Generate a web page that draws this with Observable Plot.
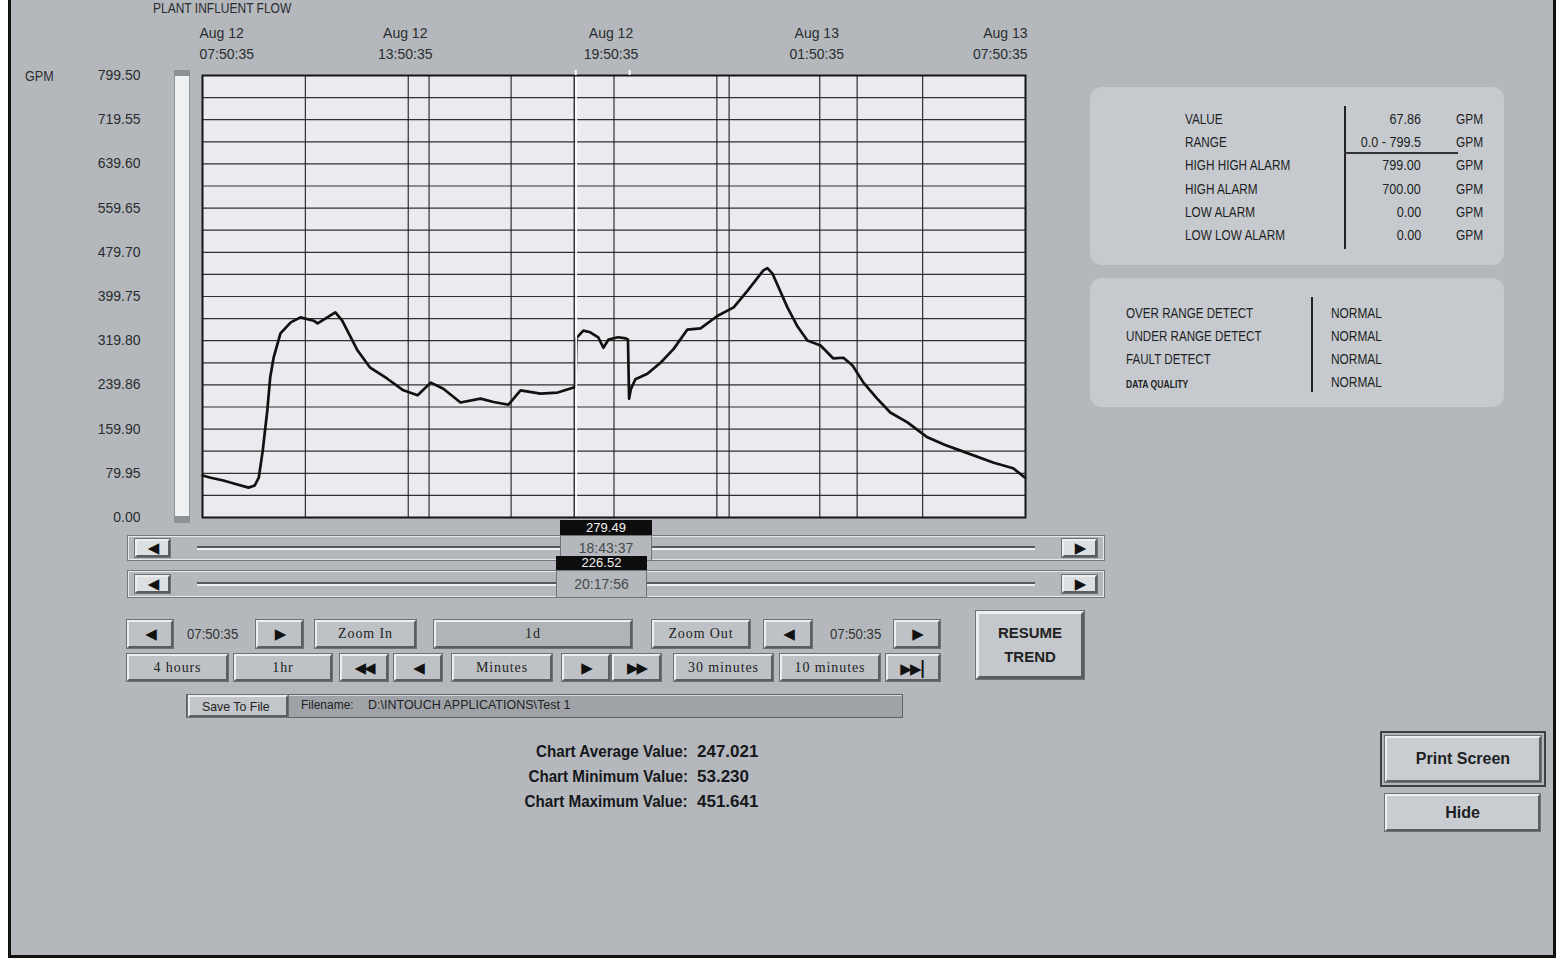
<!DOCTYPE html>
<html>
<head>
<meta charset="utf-8">
<script src="https://cdn.jsdelivr.net/npm/d3@7"></script>
<script src="https://cdn.jsdelivr.net/npm/@observablehq/plot@0.6"></script>
<style>
  html, body { margin:0; padding:0; background:#ffffff; }
  body { width:1567px; height:962px; position:relative; overflow:hidden;
         font-family:"Liberation Sans",Arial,sans-serif; color:#222; }
  #screen { position:absolute; left:8px; top:-4px; width:1548px; height:962px; box-sizing:border-box;
            background:#b4b8bd; border-left:3px solid #111; border-right:3px solid #111; border-bottom:3px solid #111; }
  .abs { position:absolute; white-space:nowrap; }
  .btn { position:absolute; box-sizing:border-box; background:#bec2c6;
         border:2px solid; border-color:#eceef0 #5a5e62 #5a5e62 #eceef0; outline:1px solid #6d7175;
         display:flex; align-items:center; justify-content:center; white-space:nowrap; }
  .serif { font-family:"Liberation Serif","Times New Roman",serif; font-size:14px; letter-spacing:0.9px; color:#222; }
  .arrow { font-family:"DejaVu Sans",sans-serif; font-size:15px; color:#111; letter-spacing:-2px; }
  .panel { position:absolute; box-sizing:border-box; background:#c6cacf; border-radius:12px; }
  .ptxt { position:absolute; white-space:nowrap; font-size:14px; color:#1d1f22; line-height:16px; }
  #chart { position:absolute; left:0; top:0; }
</style>
</head>
<body>
<div id="screen"></div>
<div id="ui"></div>
<div id="chart"></div>
<script>
// ---------------- data ----------------
const startTime = "Aug 12 07:50:35";
const endTime   = "Aug 13 07:50:35";
const times = [
  "Aug 12 07:51:00","Aug 12 08:05:00","Aug 12 08:27:00","Aug 12 08:50:00","Aug 12 09:11:00",
  "Aug 12 09:22:00","Aug 12 09:29:00","Aug 12 09:36:00","Aug 12 09:44:00","Aug 12 09:49:00",
  "Aug 12 09:55:00","Aug 12 10:07:00","Aug 12 10:25:00","Aug 12 10:42:00","Aug 12 11:05:00",
  "Aug 12 11:12:00","Aug 12 11:29:00","Aug 12 11:43:00","Aug 12 11:55:00","Aug 12 12:22:00",
  "Aug 12 12:44:00","Aug 12 13:14:00","Aug 12 13:42:00","Aug 12 14:07:00","Aug 12 14:30:00",
  "Aug 12 14:52:00","Aug 12 15:22:00","Aug 12 15:57:00","Aug 12 16:20:00","Aug 12 16:46:00",
  "Aug 12 17:07:00","Aug 12 17:42:00","Aug 12 18:12:00","Aug 12 18:40:00","Aug 12 18:43:00",
  "Aug 12 18:45:00","Aug 12 18:57:00","Aug 12 19:09:00","Aug 12 19:23:00","Aug 12 19:32:00",
  "Aug 12 19:41:00","Aug 12 19:58:00","Aug 12 20:11:00","Aug 12 20:15:00","Aug 12 20:17:00",
  "Aug 12 20:20:00","Aug 12 20:28:00","Aug 12 20:49:00","Aug 12 21:12:00","Aug 12 21:35:00",
  "Aug 12 21:59:00","Aug 12 22:22:00","Aug 12 22:52:00","Aug 12 23:20:00","Aug 12 23:44:00",
  "Aug 13 00:12:00","Aug 13 00:19:00","Aug 13 00:28:00","Aug 13 00:54:00","Aug 13 01:12:00",
  "Aug 13 01:29:00","Aug 13 01:52:00","Aug 13 02:14:00","Aug 13 02:32:00","Aug 13 02:48:00",
  "Aug 13 03:07:00","Aug 13 03:31:00","Aug 13 03:54:00","Aug 13 04:24:00","Aug 13 04:59:00",
  "Aug 13 05:30:00","Aug 13 05:57:00","Aug 13 06:55:00","Aug 13 07:29:00","Aug 13 07:50:00"
];
const flow = [
  76, 72, 67, 60, 54,
  58, 72, 121, 194, 253,
  289, 333, 353, 362, 356,
  351, 362, 371, 356, 302,
  271, 251, 230, 221, 244,
  233, 208, 215, 209, 204,
  230, 224, 226, 235, 238,
  325, 338, 335, 326, 307,
  322, 326, 324, 322, 215,
  232, 250, 260, 280, 305,
  340, 342, 365, 380, 410,
  447, 451, 441, 380, 345,
  320, 311, 288, 289, 275,
  244, 215, 190, 172, 145,
  131, 121, 99, 89, 72
];
const yTickValues = [0, 79.95, 159.9, 239.85, 319.8, 399.75, 479.7, 559.65, 639.6, 719.55, 799.5];
const yTickLabels = ["0.00","79.95","159.90","239.86","319.80","399.75","479.70","559.65","639.60","719.55","799.50"];
const hGridValues = d3.range(0, 21).map(i => i * 39.975);
const xTickTimes  = ["Aug 12 07:50:35","Aug 12 13:50:35","Aug 12 19:50:35","Aug 13 01:50:36","Aug 13 07:50:35"];
const xTickLabels = ["Aug 12\n07:50:35","Aug 12\n13:50:35","Aug 12\n19:50:35","Aug 13\n01:50:35","Aug 13\n07:50:35"];
const vGridTimes  = ["Aug 12 10:50:35","Aug 12 13:50:35","Aug 12 14:27:00","Aug 12 16:50:35","Aug 12 19:50:35",
                     "Aug 12 22:50:35","Aug 12 23:12:00","Aug 13 01:50:35","Aug 13 02:56:00","Aug 13 04:50:35"];
const cursorTimes  = ["Aug 12 18:43:37","Aug 12 20:17:56"];
const cursorValues = ["279.49","226.52"];
const cursorLabels = ["18:43:37","20:17:56"];

const infoLabels = ["VALUE","RANGE","HIGH HIGH ALARM","HIGH ALARM","LOW ALARM","LOW LOW ALARM"];
const infoValues = ["67.86","0.0 -  799.5","799.00","700.00","0.00","0.00"];
const infoUnits  = ["GPM","GPM","GPM","GPM","GPM","GPM"];
const statusLabels = ["OVER RANGE DETECT","UNDER RANGE DETECT","FAULT DETECT","DATA QUALITY"];
const statusValues = ["NORMAL","NORMAL","NORMAL","NORMAL"];
const statLabels = ["Chart Average Value:","Chart Minimum Value:","Chart Maximum Value:"];
const statValues = ["247.021","53.230","451.641"];

// ---------------- chart ----------------
const parse = d3.timeParse("%b %d %H:%M:%S");
const data = times.map((t, i) => ({time: parse(t), flow: flow[i]}));
const xTicks = xTickTimes.map((t, i) => ({time: parse(t), label: xTickLabels[i]}));
const vGrid = vGridTimes.map(parse);
const cursors = cursorTimes.map(parse);

const axisFont = "'Liberation Sans', Arial, sans-serif";
const chart = Plot.plot({
  width: 1100, height: 530,
  marginLeft: 202, marginRight: 75, marginTop: 75, marginBottom: 13,
  style: {background: "transparent", fontFamily: axisFont, fontSize: "14px", color: "#2a2c2f", overflow: "visible"},
  x: {type: "time", domain: [parse(startTime), parse(endTime)], axis: null, label: null},
  y: {domain: [0, 799.5], axis: null, label: null},
  marks: [
    Plot.frame({fill: "#e9ebee", stroke: "none"}),
    Plot.ruleY(hGridValues, {stroke: "#1c1c1c", strokeWidth: 1.2, strokeOpacity: 0.9}),
    Plot.ruleX(vGrid, {stroke: "#1c1c1c", strokeWidth: 1.2, strokeOpacity: 0.9}),
    Plot.ruleX(cursors.slice(0, 1), {stroke: "#1c1c1c", strokeWidth: 1.3, dx: -1.5}),
    Plot.line(data, {x: "time", y: "flow", stroke: "#111", strokeWidth: 2.7, strokeLinejoin: "round"}),
    Plot.ruleX(cursors.slice(0, 1), {stroke: "#ffffff", strokeWidth: 1.8, dx: 0.5}),
    Plot.frame({stroke: "#151515", strokeWidth: 2}),
    Plot.axisY(yTickValues, {
      label: null, tickSize: 0, tickPadding: 62, fontSize: 14, fill: "#2a2c2f",
      tickFormat: d => yTickLabels[Math.round(d / 79.95)]
    }),
    Plot.text(xTicks.slice(0, 1), {x: "time", text: "label", frameAnchor: "top", textAnchor: "start",
      lineAnchor: "bottom", lineHeight: 1.45, dx: -3, dy: -17, fontSize: 14, fill: "#2a2c2f"}),
    Plot.text(xTicks.slice(1, 4), {x: "time", text: "label", frameAnchor: "top", textAnchor: "middle",
      lineAnchor: "bottom", lineHeight: 1.45, dx: -3, dy: -17, fontSize: 14, fill: "#2a2c2f"}),
    Plot.text(xTicks.slice(4), {x: "time", text: "label", frameAnchor: "top", textAnchor: "end",
      lineAnchor: "bottom", lineHeight: 1.45, dx: 2, dy: -17, fontSize: 14, fill: "#2a2c2f"}),
    // small cursor markers just above the frame
    Plot.ruleX(cursors, {y1: 799.5, y2: 799.5, stroke: "#ffffff", strokeWidth: 2, insetTop: -5})
  ]
});
document.getElementById("chart").appendChild(chart);

// ---------------- surrounding HMI screen ----------------
const ui = document.getElementById("ui");
function el(cls, x, y, w, h, html, style) {
  const d = document.createElement("div");
  d.className = cls;
  d.style.left = x + "px"; d.style.top = y + "px";
  if (w != null) d.style.width = w + "px";
  if (h != null) d.style.height = h + "px";
  if (html != null) d.innerHTML = html;
  if (style) Object.assign(d.style, style);
  ui.appendChild(d);
  return d;
}
function txt(x, y, s, style) { return el("abs", x, y, null, null, s, style); }
function narrow(s, k, right) {
  return `<span style="display:inline-block;transform:scaleX(${k});transform-origin:${right ? "right" : "left"} center">${s}</span>`;
}

// title and unit
txt(153, 0, narrow("PLANT INFLUENT FLOW", 0.8), {fontSize: "15px", color: "#2a2c2f", lineHeight: "16px"});
txt(25, 68, narrow("GPM", 0.9), {fontSize: "14px", color: "#2a2c2f"});

// vertical indicator bar
el("abs", 174, 72, 16, 450, "", {boxSizing: "border-box", background: "#eef0f2", border: "1px solid #8e9296"});
el("abs", 174, 70, 16, 6, "", {background: "#8d9196"});
el("abs", 174, 516, 16, 7, "", {background: "#8d9196"});

// scroll bars
function scroller(y, h) {
  el("abs", 127, y, 978, h, "", {boxSizing: "border-box", border: "1px solid #74787c",
     boxShadow: "inset 1px 1px 0 #e6e8ea, inset -1px -1px 0 #e6e8ea", background: "#b4b8bd"});
  const cy = y + Math.round(h / 2);
  el("abs", 197, cy - 2, 838, 2, "", {background: "#55595e"});
  el("abs", 197, cy, 838, 2, "", {background: "#eef0f2"});
  el("btn", 135, cy - 9, 35, 18, "<span class='arrow'>◀</span>", {background: "#dde0e2"});
  el("btn", 1062, cy - 9, 35, 18, "<span class='arrow'>▶</span>", {background: "#dde0e2"});
}
scroller(535, 26);
scroller(570, 28);

// cursor read-outs
el("abs", 560, 535, 92, 26, cursorLabels[0], {boxSizing: "border-box", border: "1px solid #6f7377", background: "#b4b8bd",
   color: "#45484c", fontSize: "14px", textAlign: "center", lineHeight: "24px"});
el("abs", 560, 520, 92, 15, cursorValues[0], {background: "#0d0d0d", color: "#f2f2f2", fontSize: "13px",
   textAlign: "center", lineHeight: "15px"});
el("abs", 556, 570, 91, 28, cursorLabels[1], {boxSizing: "border-box", border: "1px solid #6f7377", background: "#b4b8bd",
   color: "#45484c", fontSize: "14px", textAlign: "center", lineHeight: "26px"});
el("abs", 556, 556, 91, 14, cursorValues[1], {background: "#0d0d0d", color: "#f2f2f2", fontSize: "13px",
   textAlign: "center", lineHeight: "14px"});

// button rows
const r1 = 620, r1h = 28, r2 = 654, r2h = 27;
el("btn", 127, r1, 46, r1h, "<span class='arrow'>◀</span>");
txt(187, r1 + 6, narrow("07:50:35", 0.94), {fontSize: "14px", color: "#333"});
el("btn", 256, r1, 47, r1h, "<span class='arrow'>▶</span>");
el("btn serif", 315, r1, 101, r1h, "Zoom In");
el("btn serif", 434, r1, 198, r1h, "1d", {background: "#b0b4b8"});
el("btn serif", 652, r1, 98, r1h, "Zoom Out");
el("btn", 764, r1, 48, r1h, "<span class='arrow'>◀</span>");
txt(830, r1 + 6, narrow("07:50:35", 0.94), {fontSize: "14px", color: "#333"});
el("btn", 894, r1, 46, r1h, "<span class='arrow'>▶</span>");

el("btn serif", 127, r2, 101, r2h, "4 hours");
el("btn serif", 234, r2, 98, r2h, "1hr");
el("btn", 340, r2, 48, r2h, "<span class='arrow'>◀◀</span>");
el("btn", 394, r2, 48, r2h, "<span class='arrow'>◀</span>");
el("btn serif", 452, r2, 100, r2h, "Minutes");
el("btn", 562, r2, 48, r2h, "<span class='arrow'>▶</span>");
el("btn", 612, r2, 49, r2h, "<span class='arrow'>▶▶</span>");
el("btn serif", 674, r2, 99, r2h, "30 minutes");
el("btn serif", 780, r2, 100, r2h, "10 minutes");
el("btn", 886, r2, 54, r2h, "<span class='arrow'>▶▶<b style='font-size:17px;letter-spacing:0'>|</b></span>");

el("btn", 976, 611, 108, 68, "RESUME<br>TREND",
   {flexDirection: "column", fontFamily: "'Liberation Sans',Arial,sans-serif", fontWeight: "bold",
    fontSize: "15px", lineHeight: "24px", color: "#222", textAlign: "center", background: "#c4c8cc",
    borderWidth: "3px"});

// save to file row
el("abs", 186, 694, 717, 24, "", {boxSizing: "border-box", background: "#9fa3a8", border: "1px solid #5f6367",
   boxShadow: "inset 1px 1px 0 #d8dadc"});
el("btn", 188, 695, 100, 22, narrow("Save To File", 0.95), {fontSize: "13px", color: "#222", background: "#c2c6ca"});
txt(301, 698, "Filename:", {fontSize: "12px", color: "#222"});
txt(368, 698, "D:\\INTOUCH APPLICATIONS\\Test 1", {fontSize: "12.5px", color: "#222"});

// statistics
statLabels.forEach((s, i) => {
  txt(388, 743 + i * 25, narrow(s, 0.95, true), {width: "300px", textAlign: "right", fontSize: "16px",
     fontWeight: "bold", color: "#15171a"});
  txt(697, 742 + i * 25, statValues[i], {fontFamily: "'Liberation Sans',Arial,sans-serif",
     fontSize: "17px", fontWeight: "bold", color: "#15171a"});
});

// right information panels
el("panel", 1090, 87, 414, 178, "");
el("abs", 1344, 106, 1.5, 143, "", {background: "#222"});
el("abs", 1344, 152, 114, 1.5, "", {background: "#333"});
infoLabels.forEach((s, i) => {
  const y = 111 + i * 23.2;
  el("ptxt", 1185, y, null, null, narrow(s, 0.84));
  el("ptxt", 1300, y, 121, null, narrow(infoValues[i], 0.9, true), {textAlign: "right", fontSize: "14px"});
  el("ptxt", 1456, y, null, null, narrow(infoUnits[i], 0.85));
});
el("panel", 1090, 278, 414, 129, "");
el("abs", 1311, 297, 1.5, 95, "", {background: "#222"});
statusLabels.forEach((s, i) => {
  const y = 305 + i * 23;
  el("ptxt", 1126, y, null, null, narrow(s, i === 3 ? 0.78 : 0.83),
     i === 3 ? {fontSize: "11px", fontWeight: "bold", top: (y + 2) + "px"} : null);
  el("ptxt", 1331, y, null, null, narrow(statusValues[i], 0.85));
});

// print / hide
el("abs", 1380, 731, 166, 56, "", {boxSizing: "border-box", border: "2px solid #3d4145", background: "#b4b8bd"});
el("btn", 1385, 736, 156, 46, "Print Screen", {fontFamily: "'Liberation Sans',Arial,sans-serif", fontWeight: "bold",
   fontSize: "16px", color: "#1d1f22", background: "#c9cdd1"});
el("btn", 1385, 794, 155, 37, "Hide", {fontFamily: "'Liberation Sans',Arial,sans-serif", fontWeight: "bold",
   fontSize: "16px", color: "#1d1f22", background: "#c9cdd1"});
</script>
</body>
</html>
